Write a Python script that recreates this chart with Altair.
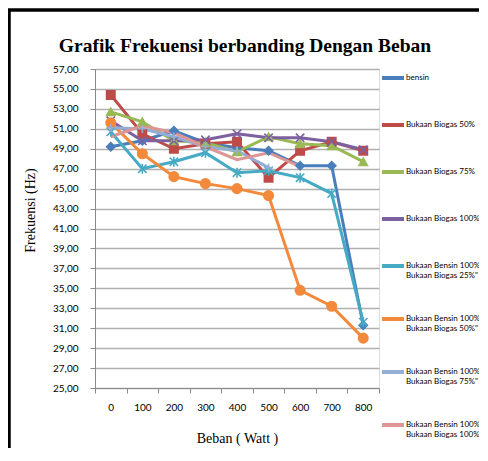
import altair as alt
import pandas as pd

beban = [0, 100, 200, 300, 400, 500, 600, 700, 800]

series_names = [
    "bensin",
    "Bukaan Biogas 50%",
    "Bukaan Biogas 75%",
    "Bukaan Biogas 100%",
    "Bukaan Bensin 100%\nBukaan Biogas 25%\"",
    "Bukaan Bensin 100%\nBukaan Biogas 50%\"",
    "Bukaan Bensin 100%\nBukaan Biogas 75%\"",
    "Bukaan Bensin 100%\nBukaan Biogas 100%\"",
]

bensin = [49.2, 49.8, 50.8, 49.6, 49.1, 48.8, 47.3, 47.3, 31.3]
biogas50 = [54.4, 50.5, 49.0, 49.5, 49.7, 46.1, 48.8, 49.7, 48.8]
biogas75 = [52.7, 51.7, 49.8, 49.6, 48.7, 50.2, 49.5, 49.3, 47.7]
biogas100 = [51.8, 49.8, 49.8, 49.9, 50.5, 50.1, 50.1, 49.7, 48.9]
bensin_biogas25 = [50.7, 47.0, 47.7, 48.6, 46.6, 46.8, 46.1, 44.5, 31.6]
bensin_biogas50 = [51.6, 48.5, 46.2, 45.5, 45.0, 44.3, 34.8, 33.2, 30.0]
bensin_biogas75 = [51.1, 51.0, 50.2, 49.2, 48.8, 47.1, None, None, None]
bensin_biogas100 = [50.2, 51.3, 50.6, 49.2, 47.9, 48.6, 47.2, None, None]

all_values = [bensin, biogas50, biogas75, biogas100,
              bensin_biogas25, bensin_biogas50, bensin_biogas75, bensin_biogas100]

colors = ["#4A7EBB", "#BE4B48", "#98B954", "#7D60A0",
          "#46AAC5", "#F2893B", "#94AFD6", "#DB9695"]
shapes = [
    "diamond",
    "square",
    "triangle-up",
    "M-1,-1L1,1M-1,1L1,-1",
    "M-1,-1L1,1M-1,1L1,-1M0,-1.2L0,1.2",
    "circle",
    "M-1,0L1,0M0,-1L0,1",
    None,
]
marker_sizes = [70, 70, 70, 70, 70, 90, 70, 0]

title_text = "Grafik Frekuensi berbanding Dengan Beban"

rows = []
for name, vals in zip(series_names, all_values):
    for b, v in zip(beban, vals):
        if v is not None:
            rows.append({"Beban": b, "Frekuensi": v, "Seri": name})
df = pd.DataFrame(rows)

y_ticks = list(range(25, 58, 2))

x_enc = alt.X(
    "Beban:O",
    sort=beban,
    bandPosition=0.5,
    scale=alt.Scale(type="band", paddingInner=0, paddingOuter=0),
    axis=alt.Axis(
        title="Beban ( Watt )",
        titleFont="Liberation Serif",
        titleFontSize=14,
        titleFontWeight="normal",
        titleColor="black",
        titlePadding=19,
        labelFont="Lato",
        labelFontSize=10,
        labelColor="black",
        labelPadding=9,
        labelAngle=0,
        tickBand="extent",
        tickSize=5,
        tickColor="#8a8a8a",
        domainColor="#8a8a8a",
        grid=False,
    ),
)

y_enc = alt.Y(
    "Frekuensi:Q",
    scale=alt.Scale(domain=[25, 57], nice=False, zero=False),
    axis=alt.Axis(
        title="Frekuensi (Hz)",
        titleFont="Liberation Serif",
        titleFontSize=14,
        titleFontWeight="normal",
        titleColor="black",
        titleX=-58,
        titleY=141,
        values=y_ticks,
        labelExpr="replace(format(datum.value, '.2f'), '.', ',')",
        labelFont="Lato",
        labelFontSize=10,
        labelColor="black",
        labelPadding=12,
        tickSize=5,
        tickColor="#8a8a8a",
        domainColor="#8a8a8a",
        grid=True,
        gridColor="#b0b0b0",
        gridWidth=1.6,
    ),
)

color_scale = alt.Scale(domain=series_names, range=colors)

lines = alt.Chart(df).mark_line(strokeWidth=3).encode(
    x=x_enc,
    y=y_enc,
    color=alt.Color(
        "Seri:N",
        scale=color_scale,
        sort=series_names,
        legend=alt.Legend(
            title=None,
            orient="none",
            legendX=285,
            legendY=-4,
            symbolType="stroke",
            symbolStrokeWidth=4,
            symbolSize=484,
            labelFont="Lato",
            labelFontSize=8,
            labelColor="black",
            labelLimit=0,
            labelOffset=0,
            labelExpr="split(datum.label, '\\n')",
            rowPadding=26,
        ),
    ),
    order=alt.Order("Beban:Q"),
)

point_layers = []
for name, col, shp, sz in zip(series_names, colors, shapes, marker_sizes):
    if shp is None or sz == 0:
        continue
    sub = df[df["Seri"] == name]
    point_layers.append(
        alt.Chart(sub).mark_point(
            shape=shp, filled=True, size=sz, color=col, fill=col, stroke=col,
            strokeWidth=1.6, opacity=1,
        ).encode(x=x_enc, y=y_enc)
    )

frame_df = pd.DataFrame({"k": [0]})
frame_left = alt.Chart(frame_df).mark_rule(color="black", strokeWidth=3.5).encode(
    x=alt.value(-86), y=alt.value(-60), y2=alt.value(400)
)
frame_top = alt.Chart(frame_df).mark_rule(color="black", strokeWidth=3.5).encode(
    x=alt.value(-88), x2=alt.value(400), y=alt.value(-59)
)
title_df = pd.DataFrame({"t": [title_text]})
title_mark = alt.Chart(title_df).mark_text(
    font="Liberation Serif", fontSize=19.5, fontWeight="bold", color="black",
    align="center", baseline="alphabetic",
).encode(text="t:N", x=alt.value(150), y=alt.value(-17))

chart = alt.layer(frame_left, frame_top, title_mark, lines, *point_layers).properties(
    width=284,
    height=319,
    autosize=alt.AutoSizeParams(type="none"),
    padding={"left": 87, "top": 61, "right": 100, "bottom": 60},
).configure_view(stroke=None).configure(background="white")

chart.save("out.html", embed_options={"renderer": "svg", "actions": False})
